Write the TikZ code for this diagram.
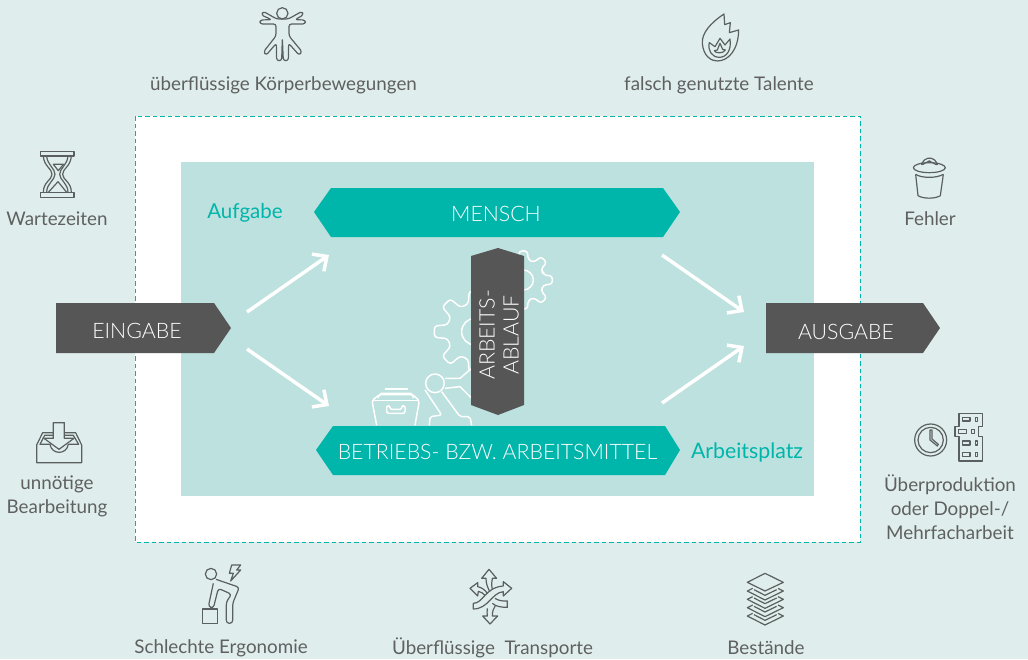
\documentclass[tikz,border=0pt]{standalone}
\usepackage{fontspec}
\setmainfont{Lato}
\newfontfamily\lightfont{Lato Light}
\usetikzlibrary{arrows.meta}
\definecolor{bgc}{HTML}{DFEEEC}
\definecolor{innerc}{HTML}{BCE1DE}
\definecolor{tealc}{HTML}{00B5AA}
\definecolor{darkc}{HTML}{565656}
\definecolor{txtc}{HTML}{5F6060}
\definecolor{iconc}{HTML}{5A5F5F}
\tikzset{
  lbl/.style={text=txtc,font=\fontsize{18.8}{24}\selectfont,align=center,inner sep=0pt},
  tlbl/.style={text=tealc,font=\fontsize{20.5}{24}\selectfont,inner sep=0pt},
  wlbl/.style={text=white,font=\lightfont\fontsize{21.3}{24}\selectfont,align=center,inner sep=0pt},
  icon/.style={draw=iconc,line width=1.2pt,line join=round,fill=none},
  wicon/.style={draw=white,line width=1.5pt,line join=round,fill=none},
  flow/.style={draw=white,line width=3.5pt,-{Straight Barb[length=11pt,width=21pt,line width=3.5pt]}},
  zm/.style={x=0.3333pt,y=-0.3333pt}
}
\newcommand{\gearoutline}[2]{%
  (-14:#2) \foreach \a in {0,45,...,315}{ -- ({\a-14}:#2) -- ({\a-8}:#1) -- ({\a+8}:#1) -- ({\a+14}:#2) } -- cycle}
\begin{document}
\begin{tikzpicture}[x=1pt,y=-1pt]
\useasboundingbox (0,0) rectangle (1028,659);
\fill[bgc] (0,0) rectangle (1028,659);
\fill[white] (135,116) rectangle (860,542);
\draw[tealc,line width=1pt,dash pattern=on 4.5pt off 3pt] (135,116) rectangle (860,542);
\fill[innerc] (181,162) rectangle (814,496);

% gears and robot (white line art)
\begin{scope}[shift={(360,240)},zm]
  \begin{scope}[shift={(345,275)}]
    \draw[wicon,rounded corners=3pt] \gearoutline{123}{85};
    \draw[wicon] (0,0) circle[radius=40];
  \end{scope}
  \begin{scope}[shift={(490,120)}]
    \draw[wicon,rounded corners=3pt] \gearoutline{88}{62};
    \draw[wicon] (0,0) circle[radius=30];
  \end{scope}
  % robot
  \fill[innerc] (225,430) circle[radius=28];
  \draw[wicon] (225,430) circle[radius=28];
  \draw[wicon,fill=innerc] (255,415) -- (300,415) -- (335,385) -- (335,475) -- (300,440) -- (255,445);
  \draw[wicon] (345,410) arc[start angle=140,end angle=220,radius=30];
  \draw[wicon,rounded corners=2pt] (195,450) -- (245,525) -- (210,530) -- (208,556);
  \draw[wicon,rounded corners=2pt] (245,455) -- (300,530) -- (330,530) -- (335,556);
  % cabinet
  \draw[wicon,rounded corners=2pt] (50,556) -- (36,482) -- (58,464) -- (158,464) -- (178,482) -- (165,556);
  \draw[wicon] (36,482) -- (178,482);
  \draw[wicon,rounded corners=2pt] (55,475) -- (58,460) -- (158,460) -- (160,475);
  \draw[wicon] (75,447) -- (143,447);
  \draw[wicon,rounded corners=2pt] (80,497) -- (80,520) -- (135,520) -- (135,497) -- (125,497) -- (125,508) -- (90,508) -- (90,497) -- cycle;
\end{scope}

% main shapes
\fill[tealc] (314,212) -- (331,188) -- (663,188) -- (680,212) -- (663,237) -- (331,237) -- cycle;
\node[wlbl] (mensch) at (496,213.5) {MENSCH};
\fill[tealc] (316,450) -- (333,426) -- (665,426) -- (680,450) -- (665,475) -- (333,475) -- cycle;
\node[wlbl] (betrieb) at (497.5,451.5) {BETRIEBS- BZW. ARBEITSMITTEL};
\fill[darkc] (498,248) -- (524,256) -- (524,405) -- (498,415) -- (471,405) -- (471,256) -- cycle;
\node[wlbl,rotate=90] (ablauf) at (499,335) {ARBEITS-\\ABLAUF};
\fill[darkc] (56,303) -- (214,303) -- (231,328) -- (214,353) -- (56,353) -- cycle;
\node[wlbl] (eingabe) at (137,330.5) {EINGABE};
\fill[darkc] (766,303) -- (923,303) -- (940,328) -- (923,353) -- (766,353) -- cycle;
\node[wlbl] (ausgabe) at (846,331.5) {AUSGABE};

% flow arrows
\coordinate (a1s) at (247,312); \coordinate (a1e) at (329,255);
\coordinate (a2s) at (247,349); \coordinate (a2e) at (329,406);
\coordinate (a3s) at (662,255); \coordinate (a3e) at (744,312);
\coordinate (a4s) at (662,403); \coordinate (a4e) at (744,346);
\draw[flow] (a1s) -- (a1e);
\draw[flow] (a2s) -- (a2e);
\draw[flow] (a3s) -- (a3e);
\draw[flow] (a4s) -- (a4e);

% labels
\node[tlbl] (aufgabe) at (245,212.5) {Aufgabe};
\node[tlbl,font=\fontsize{21.3}{24}\selectfont] (platz) at (747,452) {Arbeitsplatz};
\node[lbl] (l1) at (283.5,85) {überflüssige Körperbewegungen};
\node[lbl] (l2) at (719,85) {falsch genutzte Talente};
\node[lbl] (l3) at (57,219) {Wartezeiten};
\node[lbl] (l4) at (930,219) {Fehler};
\node[lbl] (l5) at (57,496) {unnötige\\Bearbeitung};
\node[lbl] (l6) at (950,507.5) {Überproduktion\\oder Doppel-/\\Mehrfacharbeit};
\node[lbl] (l7) at (221,648) {Schlechte Ergonomie};
\node[lbl] (l8) at (492.5,648) {Überflüssige\ \ Transporte};
\node[lbl] (l9) at (766,648) {Bestände};

% icon: body
\begin{scope}[shift={(230,0)},zm]
  \draw[icon] (157,40) circle[radius=17];
  \draw[icon,rounded corners=2.5pt] (140,57) -- (100,34) -- (94,45) -- (125,59) -- (90,60) -- (90,72) -- (138,72) -- (138,108) -- (101,155) -- (108,166) -- (139,130) -- (140,182) -- (155,182) -- (157,115) -- (160,182) -- (175,182) -- (176,130) -- (208,166) -- (216,155) -- (177,108) -- (177,72) -- (226,72) -- (226,60) -- (195,59) -- (220,45) -- (216,34) -- (175,57) -- cycle;
\end{scope}
% icon: flame
\begin{scope}[shift={(680,0)},zm]
  \draw[icon] (132,42) .. controls (90,70) and (65,100) .. (67,130) .. controls (70,170) and (95,183) .. (112,183) .. controls (145,183) and (175,150) .. (176,90) -- (148,98) -- (151,68) -- (134,74) -- cycle;
  \draw[icon] (88,128) .. controls (82,150) and (95,172) .. (118,172) .. controls (140,172) and (155,150) .. (150,117) -- (135,135) -- (120,115) -- (105,140) -- cycle;
  \draw[icon] (103,152) .. controls (105,160) and (130,162) .. (136,150) -- (128,148) -- (120,130) -- (112,150) -- cycle;
\end{scope}
% icon: hourglass
\begin{scope}[shift={(20,140)},zm]
  \draw[icon] (62,34) rectangle (162,48);
  \draw[icon] (62,157) rectangle (162,172);
  \draw[icon] (70,48) .. controls (72,80) and (96,85) .. (96,103) .. controls (96,120) and (70,125) .. (70,157);
  \draw[icon] (80,48) .. controls (82,75) and (105,85) .. (105,103) .. controls (105,120) and (80,130) .. (80,157);
  \draw[icon] (154,48) .. controls (152,80) and (128,85) .. (128,103) .. controls (128,120) and (154,125) .. (154,157);
  \draw[icon] (144,48) .. controls (142,75) and (119,85) .. (119,103) .. controls (119,120) and (144,130) .. (144,157);
  \draw[icon] (100,73) -- (130,73) -- (115,92) -- cycle;
  \draw[icon] (85,157) -- (114,125) -- (140,157);
\end{scope}
% icon: bin
\begin{scope}[shift={(890,145)},zm]
  \draw[icon] (118,68) ellipse[x radius=48,y radius=15];
  \draw[icon,rounded corners=2pt] (92,60) -- (107,40) -- (130,40) -- (145,60) -- (130,56) -- (122,48) -- (114,48) -- (105,56) -- cycle;
  \draw[icon] (77,88) -- (84,152) .. controls (100,162) and (135,162) .. (151,152) -- (160,88);
  \draw[icon] (77,88) .. controls (95,100) and (140,100) .. (160,88);
\end{scope}
% icon: inbox
\begin{scope}[shift={(20,410)},zm]
  \draw[icon] (100,38) -- (133,38) -- (133,85) -- (162,85) -- (117,118) -- (72,85) -- (100,85) -- cycle;
  \draw[icon] (100,68) -- (68,68) -- (50,105) -- (50,158) -- (185,158) -- (185,105) -- (167,68) -- (133,68);
  \draw[icon] (100,76) -- (74,76) -- (60,103) -- (90,103) .. controls (95,135) and (140,135) .. (145,103) -- (176,103) -- (160,76) -- (133,76);
\end{scope}
% icon: clock
\begin{scope}[shift={(900,405)},zm]
  \draw[icon] (92,105) circle[radius=48];
  \draw[icon] (92,105) circle[radius=38];
  \draw[icon] (90,75) -- (90,105) -- (112,123) -- (115,118) -- (96,102) -- (96,75) -- cycle;
\end{scope}
% icon: building
\begin{scope}[shift={(945,405)},zm]
  \draw[icon] (42,25) -- (112,25) -- (112,65) -- (100,65) -- (100,95) -- (112,95) -- (112,168) -- (42,168) -- (42,95) -- (30,95) -- (30,65) -- (42,65) -- cycle;
  \foreach \xa/\ya/\xb/\yb in {52/38/75/48,92/38/98/50,40/73/65/85,80/73/88/85,52/108/75/120,92/108/98/120,52/143/75/155,92/143/98/155}
    \draw[icon] (\xa,\ya) rectangle (\xb,\yb);
\end{scope}
% icon: ergonomics
\begin{scope}[shift={(180,555)},zm]
  \draw[icon] (93,57) circle[radius=17];
  \draw[icon,rounded corners=3pt] (108,73) -- (178,97) -- (158,145) -- (158,205) -- (139,205) -- (139,140) -- (155,118) -- (115,100) -- (100,160) -- (85,155) -- (100,85);
  \draw[icon] (67,162) rectangle (112,205);
  \draw[icon] (155,30) -- (182,30) -- (170,45) -- (182,45) -- (152,78) -- (160,55) -- (148,55) -- cycle;
\end{scope}
% icon: transport
\begin{scope}[shift={(450,560)},zm]
  \draw[icon] (127,88) .. controls (124,75) and (125,65) .. (127,55) -- (140,55) -- (117,28) -- (95,55) -- (108,55) .. controls (108,70) and (112,80) .. (118,92);
  \draw[icon] (112,100) .. controls (105,90) and (95,82) .. (83,80) -- (83,68) -- (60,85) -- (83,108) -- (85,94) .. controls (92,95) and (100,100) .. (105,106);
  \draw[icon] (70,130) .. controls (100,130) and (105,82) .. (160,78) -- (160,65) -- (185,85) -- (160,108) -- (160,95) .. controls (125,98) and (115,147) .. (70,147) -- cycle;
  \draw[icon] (135,115) .. controls (145,122) and (160,124) .. (172,123) -- (172,142) .. controls (155,142) and (138,140) .. (127,130);
  \draw[icon] (112,145) .. controls (110,155) and (112,160) .. (112,168) -- (98,168) -- (120,192) -- (143,168) -- (127,168) .. controls (127,155) and (130,145) .. (136,137);
\end{scope}
% icon: stack
\begin{scope}[shift={(730,565)},zm]
  \draw[icon] (105,25) -- (160,52) -- (105,78) -- (52,52) -- cycle;
  \foreach \d in {0,25,50,75}{
    \draw[icon] (68,70+\d) -- (52,78+\d) -- (105,105+\d) -- (160,78+\d) -- (144,70+\d);
    \draw[icon] (72,74+\d) -- (105,91+\d) -- (140,74+\d);
  }
\end{scope}
\end{tikzpicture}
\end{document}
